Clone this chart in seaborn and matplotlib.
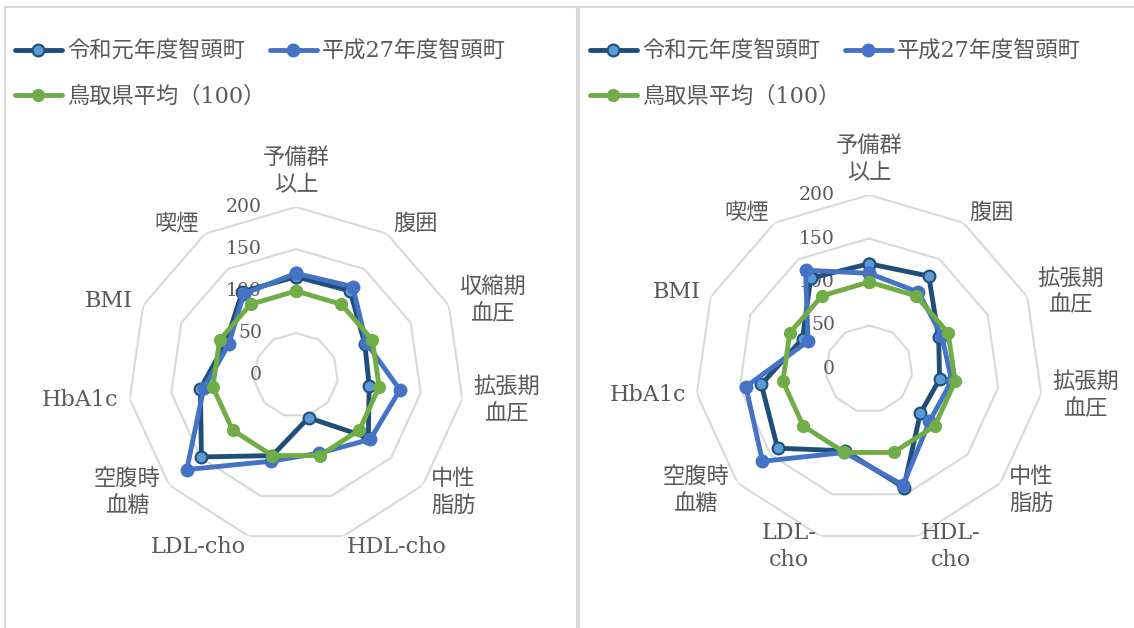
import numpy as np
import pandas as pd
import matplotlib.pyplot as plt
import seaborn as sns
from matplotlib.lines import Line2D
from matplotlib.patches import Rectangle

sns.set_theme(style="white")
plt.rcParams["font.family"] = ["DejaVu Serif", "Noto Sans CJK JP"]

# --- data ---
labels_left = ["予備群\n以上", "腹囲", "収縮期\n血圧", "拡張期\n血圧", "中性\n脂肪", "HDL-cho",
               "LDL-cho", "空腹時\n血糖", "HbA1c", "BMI", "喫煙"]
labels_right = ["予備群\n以上", "腹囲", "拡張期\n血圧", "拡張期\n血圧", "中性\n脂肪", "HDL-\ncho",
                "LDL-\ncho", "空腹時\n血糖", "HbA1c", "BMI", "喫煙"]

r1_left = [117, 119, 90, 88, 114, 53, 100, 149, 115, 92, 118]
h27_left = [121, 125, 92, 125, 117, 97, 107, 172, 111, 88, 115]
pref_left = [100, 100, 100, 100, 100, 100, 100, 100, 100, 100, 100]

r1_right = [121, 127, 88, 82, 78, 142, 98, 139, 125, 84, 124]
h27_right = [110, 105, 92, 96, 92, 139, 100, 162, 143, 77, 135]
pref_right = [100, 100, 100, 100, 100, 100, 100, 100, 100, 100, 100]

series_names = ["令和元年度智頭町", "平成27年度智頭町", "鳥取県平均（100）"]
r_ticks = [0, 50, 100, 150, 200]

# --- styles ---
TXT = "#595959"
GRID = "#d9d9d9"
styles = [
    dict(color="#1F4E79", mfc="#5B9BD5", mec="#1F4E79", ms=8.5, mew=1.5),
    dict(color="#4472C4", mfc="#4472C4", mec="#4472C4", ms=9, mew=1.0),
    dict(color="#70AD47", mfc="#70AD47", mec="#70AD47", ms=8.5, mew=1.0),
]

W, H = 1134, 628
fig = plt.figure(figsize=(W / 100, H / 100), dpi=100)


def radar(cx, cy, rad, labels, series):
    ax = fig.add_axes([(cx - rad) / W, (H - cy - rad) / H, 2 * rad / W, 2 * rad / H],
                      projection="polar")
    ax.set_theta_zero_location("N")
    ax.set_theta_direction(-1)
    n = len(labels)
    theta = np.linspace(0, 2 * np.pi, n, endpoint=False)
    theta_c = np.append(theta, 2 * np.pi)

    for r in r_ticks[1:]:
        ax.plot(theta_c, [r] * (n + 1), color=GRID, lw=1.5, zorder=1)

    for r in r_ticks:
        ax.annotate(str(r), xy=(0, r), xytext=(-24.5, 0), textcoords="offset points",
                    ha="right", va="center", fontsize=13.5, color=TXT, zorder=2)

    for k, vals in enumerate(series):
        df = pd.DataFrame({"theta": theta_c, "value": list(vals) + [vals[0]]})
        st = styles[k]
        sns.lineplot(data=df, x="theta", y="value", ax=ax, sort=False, estimator=None,
                     color=st["color"], lw=3.5, marker="o", markersize=st["ms"],
                     markerfacecolor=st["mfc"], markeredgecolor=st["mec"],
                     markeredgewidth=st["mew"], zorder=3 + k)

    pad = 8
    for t, lab in zip(theta, labels):
        s, c = np.sin(t), np.cos(t)
        ha = "center" if abs(s) < 0.1 else ("left" if s > 0 else "right")
        va = "bottom" if c > 0.9 else "center"
        ax.annotate(lab, xy=(t, 200), xytext=(pad * s, pad * c), textcoords="offset points",
                    ha=ha, va=va, multialignment="center", fontsize=16, color=TXT,
                    linespacing=1.3)

    ax.set_ylim(0, 200)
    ax.set_xticks([])
    ax.set_yticks([])
    ax.grid(False)
    ax.spines["polar"].set_visible(False)
    ax.patch.set_visible(False)
    ax.set_xlabel("")
    ax.set_ylabel("")
    return ax


radar(296, 375, 168, labels_left, [r1_left, h27_left, pref_left])
radar(869, 369, 174, labels_right, [r1_right, h27_right, pref_right])

# panel frames
fig.add_artist(Rectangle((5 / W, -0.1), (577 - 5) / W, 1.1 - 7 / H, transform=fig.transFigure,
                         fill=False, edgecolor=GRID, lw=1.5))
fig.add_artist(Rectangle((579 / W, -0.1), 0.6, 1.1 - 7 / H, transform=fig.transFigure,
                         fill=False, edgecolor=GRID, lw=1.5))

# legends
handles = [Line2D([], [], lw=3.5, marker="o", color=st["color"], markersize=st["ms"],
                  markerfacecolor=st["mfc"], markeredgecolor=st["mec"],
                  markeredgewidth=st["mew"]) for st in styles]
order = [0, 2, 1]
for x0 in [15, 590]:
    fig.legend([handles[i] for i in order], [series_names[i] for i in order], ncol=2,
               loc="upper left", bbox_to_anchor=(x0 / W, 1 - 41 / H), frameon=False,
               fontsize=16, labelcolor=TXT, handlelength=2.1, handletextpad=0.25,
               columnspacing=0.2, labelspacing=1.02, borderpad=0, borderaxespad=0)

fig.savefig("out.png", dpi=100)
